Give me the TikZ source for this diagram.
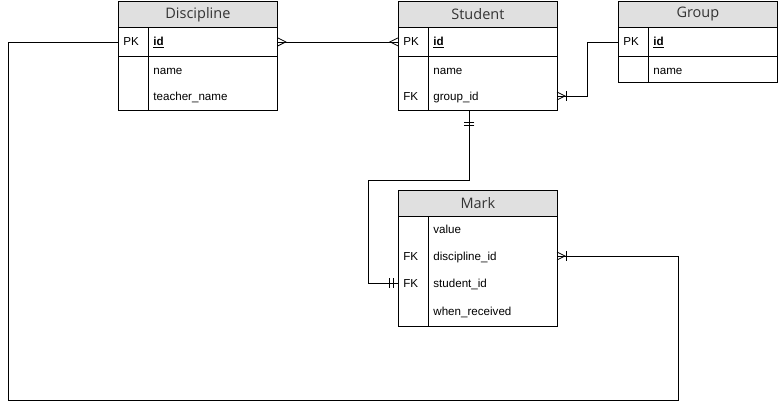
\documentclass[tikz,border=0pt]{standalone}
\usepackage{fontspec}
\setmainfont{Liberation Sans}
\newfontfamily\hdrfont{Open Sans}
\usetikzlibrary{positioning}
\definecolor{hdrgray}{HTML}{E0E0E0}
\definecolor{txtgray}{HTML}{333333}
\tikzset{
  tblhead/.style={draw, fill=hdrgray, anchor=north west, minimum width=159pt, minimum height=26pt,
    inner sep=0pt, text=txtgray, font=\hdrfont\fontsize{14.5}{16}\selectfont},
  tblrow/.style={draw, anchor=north west, minimum width=159pt, inner sep=0pt},
  fld/.style={anchor=base west, inner sep=0pt, font=\fontsize{11.6}{13}\selectfont},
  link/.style={draw, line width=0.8pt},
  crow/.pic={\draw[line width=0.8pt] (0,-4) -- (8,0) -- (0,4);},
  onebar/.pic={\draw[line width=0.8pt] (0,-5) -- (0,5);}
}

\begin{document}
\begin{tikzpicture}[x=1pt, y=-1pt, line width=0.8pt]
\useasboundingbox (0,0) rectangle (778,410);

% Discipline
\node[tblhead] (disc) at (118,1) {Discipline};
\node[tblrow, minimum height=29pt] (disc-key) at (118,27) {};
\node[tblrow, minimum height=54pt] (disc-body) at (118,56) {};
\draw (148,27) -- (148,110);
\node[fld] (disc-pk) at (123,45.5) {PK};
\node[fld] (disc-id) at (153,45.5) {\underline{\textbf{id}}};
\node[fld] (disc-name) at (153,74) {name};
\node[fld] (disc-teacher) at (153,100) {teacher\_name};

% Student
\node[tblhead] (stud) at (398,1) {Student};
\node[tblrow, minimum height=29pt] (stud-key) at (398,27) {};
\node[tblrow, minimum height=54pt] (stud-body) at (398,56) {};
\draw (428,27) -- (428,110);
\node[fld] (stud-pk) at (403,45.5) {PK};
\node[fld] (stud-id) at (433,45.5) {\underline{\textbf{id}}};
\node[fld] (stud-name) at (433,74) {name};
\node[fld] (stud-fk) at (403,100) {FK};
\node[fld] (stud-grp) at (433,100) {group\_id};

% Group
\node[tblhead] (grp) at (618,1) {Group};
\node[tblrow, minimum height=29pt] (grp-key) at (618,27) {};
\node[tblrow, minimum height=26pt] (grp-body) at (618,56) {};
\draw (648,27) -- (648,82);
\node[fld] (grp-pk) at (623,45.5) {PK};
\node[fld] (grp-id) at (653,45.5) {\underline{\textbf{id}}};
\node[fld] (grp-name) at (653,74) {name};

% Mark
\node[tblhead] (mark) at (398,190) {Mark};
\node[tblrow, minimum height=110pt] (mark-body) at (398,216) {};
\draw (428,216) -- (428,326);
\node[fld] (mark-val) at (433,233) {value};
\node[fld] (mark-fk1) at (403,260) {FK};
\node[fld] (mark-disc) at (433,260) {discipline\_id};
\node[fld] (mark-fk2) at (403,287) {FK};
\node[fld] (mark-stud) at (433,287) {student\_id};
\node[fld] (mark-when) at (433,315) {when\_received};

% links
\coordinate (low-left) at (8,400);
\coordinate (low-right) at (678,256);
\coordinate (disc-end) at (557,256);
\coordinate (grp-end) at (557,96);
\coordinate (stud-end) at (398,283);
\draw[link] (disc-key.east) -- (stud-key.west);
\draw[link] (disc-key.west) -| (low-left) -| (low-right) -- (disc-end);
\draw[link] (grp-key.west) -- ++(-31,0) |- (grp-end);
\draw[link] ([xshift=-8.5pt]stud-body.south) |- (368,180) |- (stud-end);

% ends
\pic at (disc-key.east) {crow};
\pic[rotate=180] at (stud-key.west) {crow};
\pic at (grp-end) {crow};
\pic at ([xshift=9pt]grp-end) {onebar};
\pic at (disc-end) {crow};
\pic at ([xshift=9pt]disc-end) {onebar};
\pic[rotate=-90] at ([xshift=-8.5pt,yshift=-12pt]stud-body.south) {onebar};
\pic[rotate=-90] at ([xshift=-8.5pt,yshift=-15pt]stud-body.south) {onebar};
\pic at ([xshift=-5pt]stud-end) {onebar};
\pic at ([xshift=-8.5pt]stud-end) {onebar};
\end{tikzpicture}
\end{document}
